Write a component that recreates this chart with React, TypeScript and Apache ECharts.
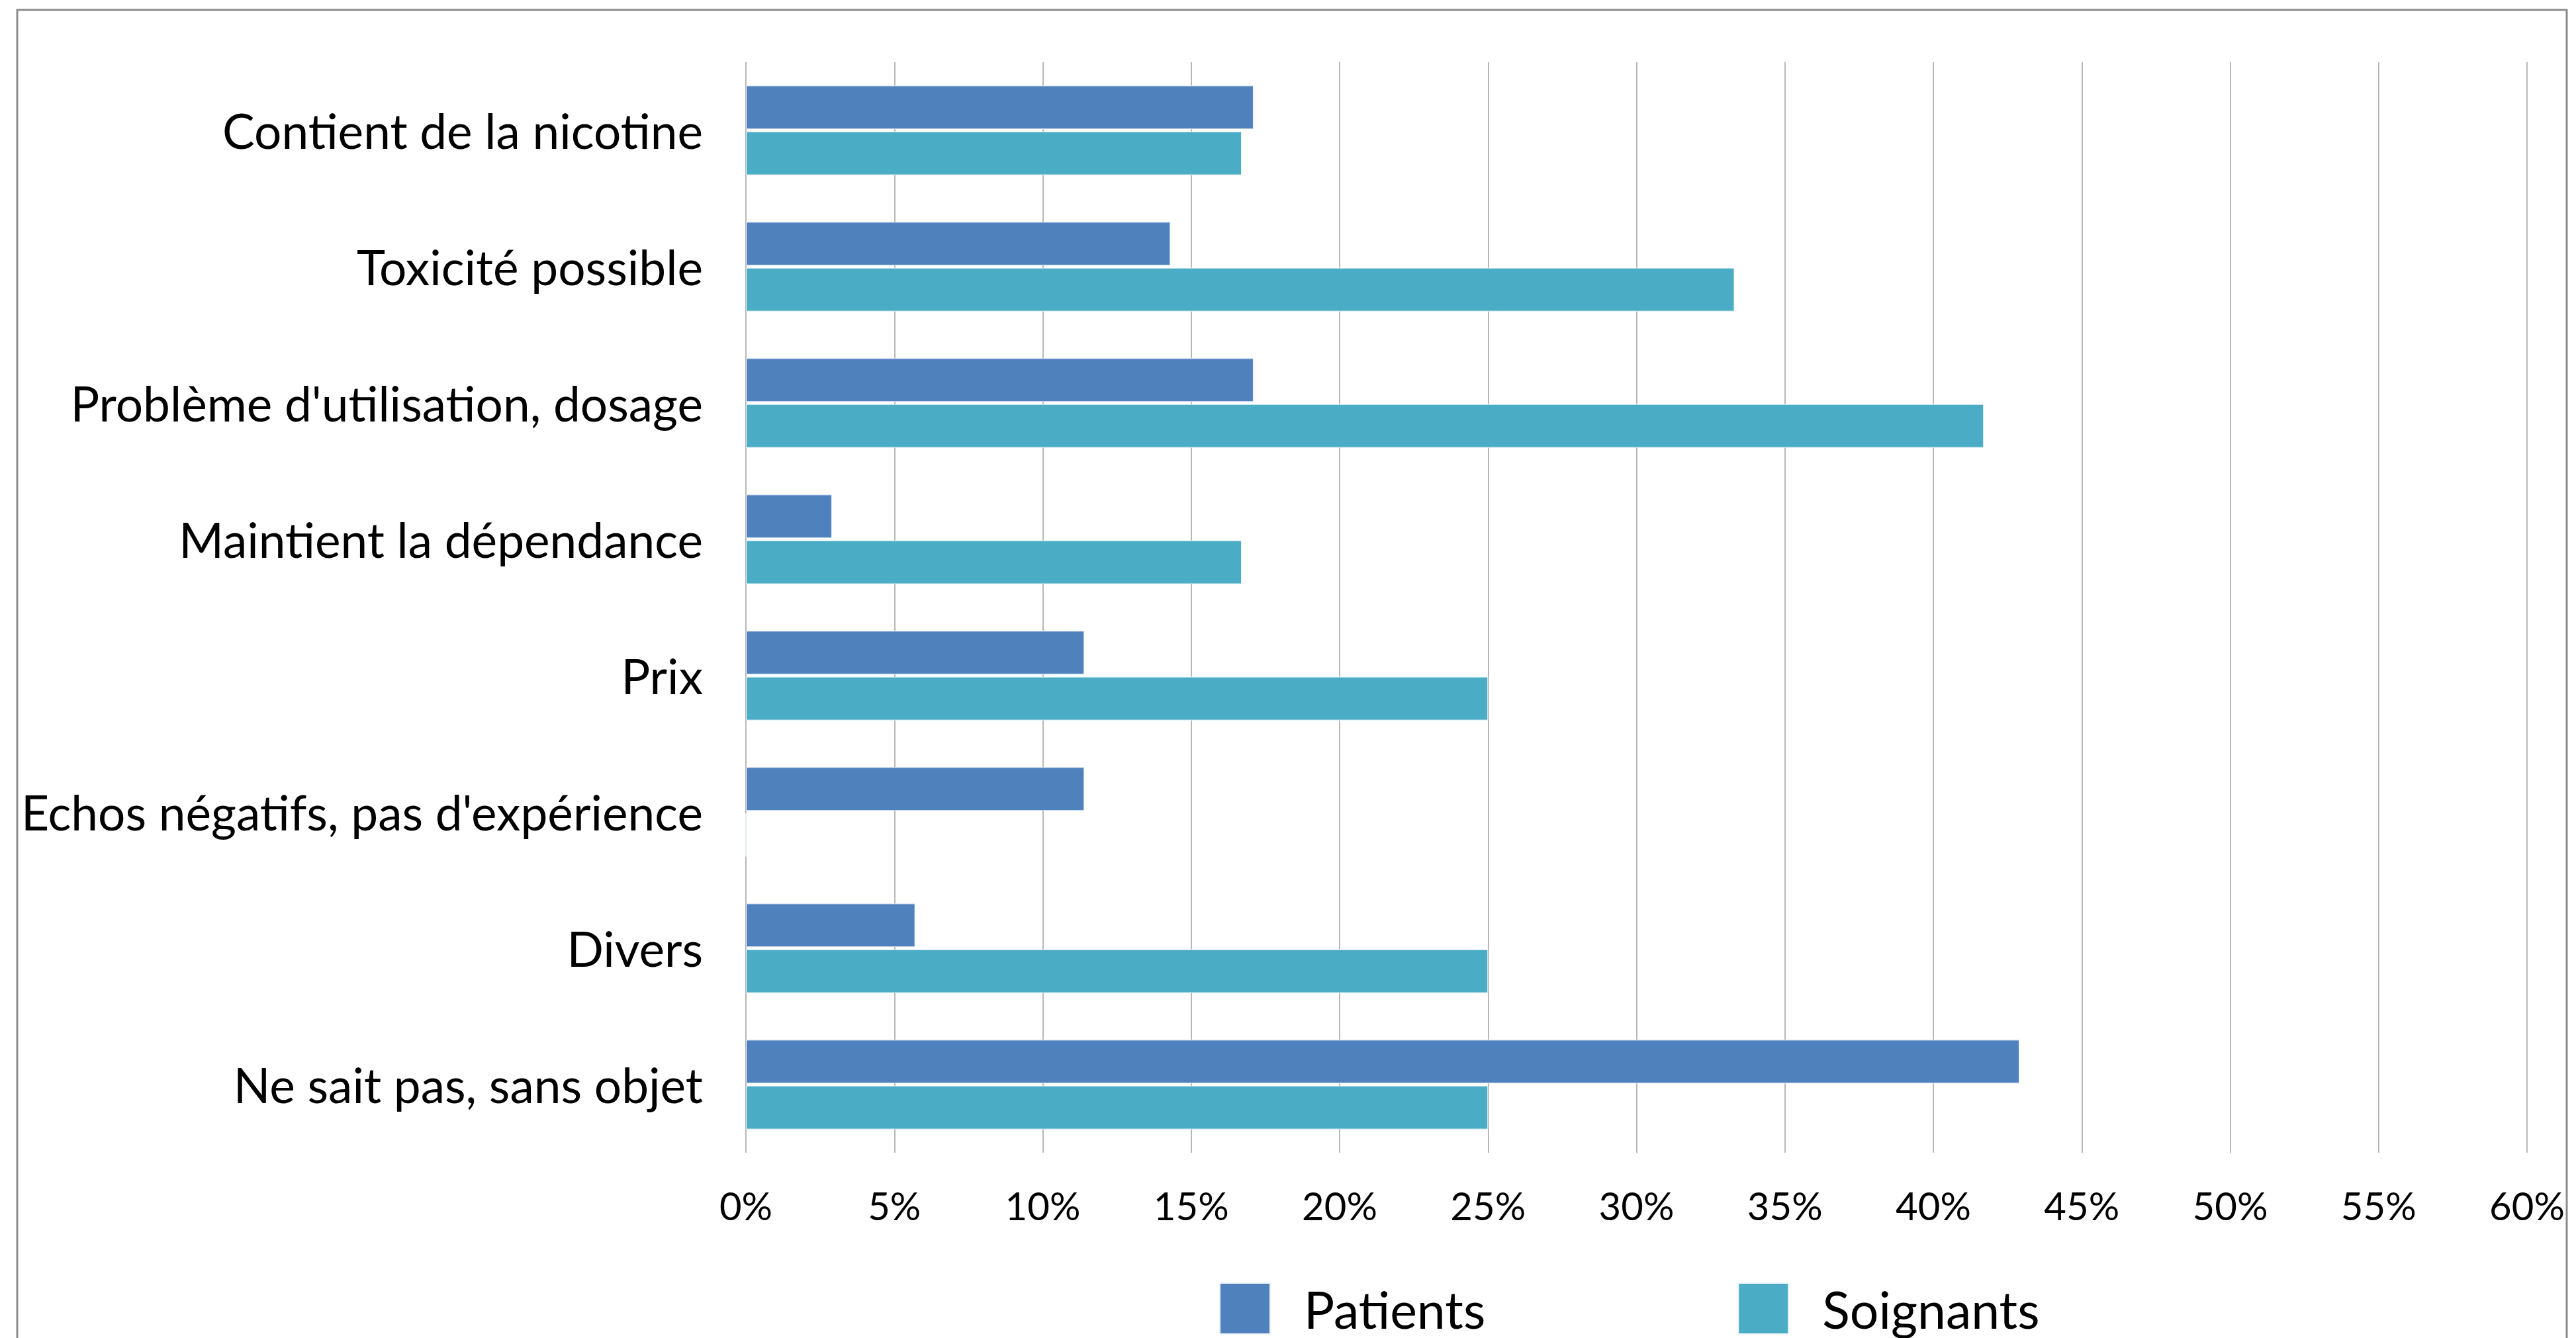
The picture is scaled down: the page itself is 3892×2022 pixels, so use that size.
import React, { useEffect, useRef } from "react";
import * as echarts from "echarts";

// Reasons cited, top to bottom
const categories = [
  "Contient de la nicotine",
  "Toxicité possible",
  "Problème d'utilisation, dosage",
  "Maintient la dépendance",
  "Prix",
  "Echos négatifs, pas d'expérience",
  "Divers",
  "Ne sait pas, sans objet",
];

// Share of respondents (%)
const patients = [17.1, 14.3, 17.1, 2.9, 11.4, 11.4, 5.7, 42.9];
const soignants = [16.7, 33.3, 41.7, 16.7, 25.0, 0, 25.0, 25.0];

const seriesNames = ["Patients", "Soignants"];
const seriesColors = ["#4F81BD", "#4BACC6"];

const FONT = "Lato, 'Noto Sans', sans-serif";

export default function App() {
  const ref = useRef<HTMLDivElement>(null);

  useEffect(() => {
    document.body.style.margin = "0";
    const chart = echarts.init(ref.current!, null, { renderer: "svg" });
    chart.setOption({
      animation: false,
      backgroundColor: "#ffffff",
      grid: { left: 1127, right: 74, top: 94, bottom: 280, containLabel: false },
      xAxis: {
        type: "value",
        min: 0,
        max: 60,
        interval: 5,
        axisLine: { show: false },
        axisTick: { show: false },
        splitLine: { show: true, lineStyle: { color: "#b8b8b8", width: 2 } },
        axisLabel: {
          formatter: "{value}%",
          fontFamily: FONT,
          fontSize: 58,
          color: "#000000",
          margin: 50,
        },
      },
      yAxis: {
        type: "category",
        data: categories,
        inverse: true,
        axisLine: { show: false },
        axisTick: { show: false },
        axisLabel: {
          fontFamily: FONT,
          fontSize: 73,
          color: "#000000",
          margin: 65,
        },
      },
      legend: {
        data: seriesNames,
        left: 1842,
        top: 1938,
        icon: "rect",
        itemWidth: 76,
        itemHeight: 77,
        itemGap: 381,
        padding: 0,
        textStyle: {
          fontFamily: FONT,
          fontSize: 77,
          lineHeight: 72,
          color: "#000000",
          padding: [0, 0, 0, 46],
        },
      },
      series: [
        {
          name: seriesNames[0],
          type: "bar",
          data: patients,
          barWidth: 66,
          barGap: "5%",
          itemStyle: { color: seriesColors[0], borderColor: "#eef2f8", borderWidth: 1 },
        },
        {
          name: seriesNames[1],
          type: "bar",
          data: soignants,
          barWidth: 66,
          barGap: "5%",
          itemStyle: { color: seriesColors[1], borderColor: "#eef6f8", borderWidth: 1 },
        },
      ],
      graphic: [
        {
          type: "rect",
          shape: { x: 26, y: 15, width: 3852, height: 2100 },
          style: { fill: "none", stroke: "#8c8c8c", lineWidth: 3 },
          silent: true,
        },
      ],
    });
    return () => chart.dispose();
  }, []);

  return (
    <div
      ref={ref}
      style={{ position: "fixed", left: 0, top: 0, width: 3892, height: 2022 }}
    />
  );
}
